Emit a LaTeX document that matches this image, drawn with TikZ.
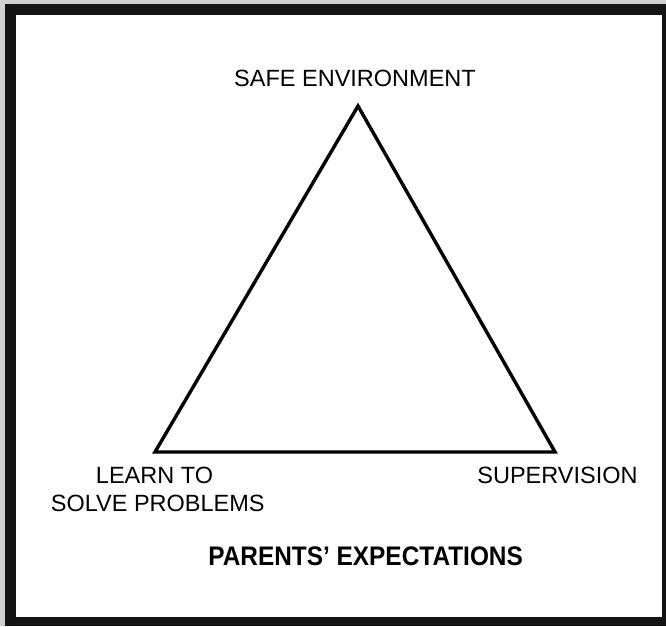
\documentclass[tikz,border=0pt]{standalone}
\usepackage{fontspec}
\usepackage{graphicx}
\setmainfont{Liberation Sans}
\begin{document}
\begin{tikzpicture}[x=1pt,y=-1pt,
  lbl/.style={inner sep=0pt,anchor=base,font=\fontsize{23.5}{27}\selectfont},
  ttl/.style={inner sep=0pt,anchor=base,font=\fontsize{24.4}{28}\selectfont\bfseries},
  edge/.style={draw=black,line width=3.4pt,line join=miter}]
\useasboundingbox (0,0) rectangle (666,626);
% paper background and frame
\fill[black!18] (0,0) rectangle (666,626);
\fill[black!92] (5,4) rectangle (666,626);
\fill[white] (16,15) rectangle (662,617);
% triangle vertices
\coordinate (apex) at (358,106);
\coordinate (bl) at (155,452);
\coordinate (br) at (555,452);
\draw[edge] (apex) -- (br) -- (bl) -- cycle;
% labels
\node[lbl] (safe) at (355,86.7) {SAFE ENVIRONMENT};
\node[lbl] (learn) at (154.5,483.3) {LEARN TO};
\node[lbl] (solve) at (157.8,511.7) {SOLVE PROBLEMS};
\node[lbl] (super) at (557.5,483.3) {SUPERVISION};
\node[ttl] (title) at (365.6,565) {\scalebox{1}[1.1]{PARENTS’ EXPECTATIONS}};
\end{tikzpicture}
\end{document}
